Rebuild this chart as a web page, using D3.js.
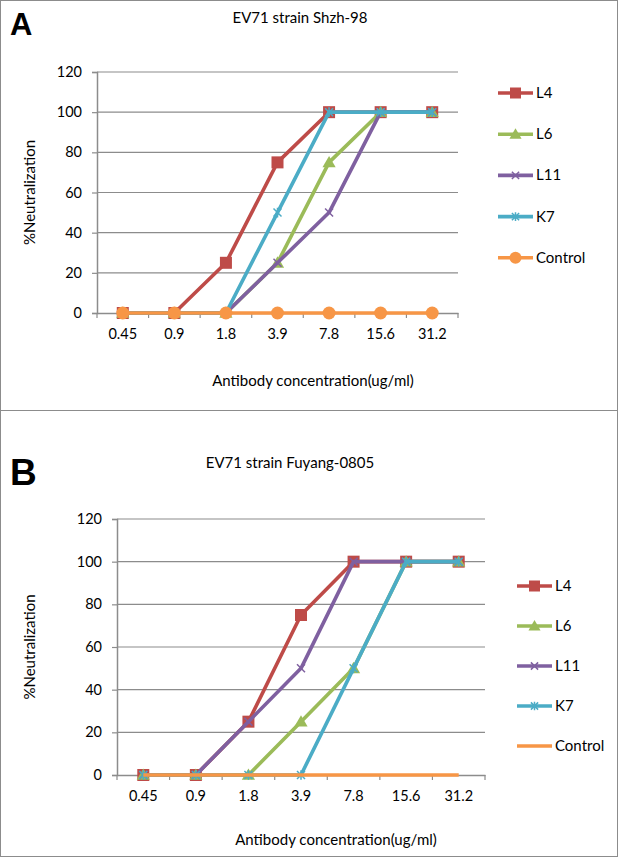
<!DOCTYPE html>
<html><head><meta charset="utf-8">
<script src="https://cdn.jsdelivr.net/npm/d3@7"></script>
<style>html,body{margin:0;padding:0;background:#fff;}svg{display:block;}</style>
</head><body>
<svg id="chart" width="619" height="858"></svg>
<script>
const categories = ["0.45","0.9","1.8","3.9","7.8","15.6","31.2"];
const yTicks = [0,20,40,60,80,100,120];
const seriesNames = ["L4","L6","L11","K7","Control"];
const seriesColors = ["#BE4B48","#9BBB59","#7F60A0","#4BACC6","#F79646"];
const seriesMarkers = ["square","triangle","x","star","circle"];
// Panel A: EV71 strain Shzh-98
const shzhL4 = [0,0,25,75,100,100,100];
const shzhL6 = [0,0,0,25,75,100,100];
const shzhL11 = [0,0,0,25,50,100,100];
const shzhK7 = [0,0,0,50,100,100,100];
const shzhControl = [0,0,0,0,0,0,0];
// Panel B: EV71 strain Fuyang-0805
const fuyL4 = [0,0,25,75,100,100,100];
const fuyL6 = [0,0,0,25,50,100,100];
const fuyL11 = [0,0,25,50,100,100,100];
const fuyK7 = [0,0,0,0,50,100,100];
const fuyControl = [0,0,0,0,0,0,0];

const FONT = "Lato, 'Open Sans', sans-serif";
const svg = d3.select("#chart");
const GRID = "#8c8c8c";

function marker(g, type, x, y, color, s) {
  if (type === "square") {
    g.append("rect").attr("x", x - s/2).attr("y", y - s/2).attr("width", s).attr("height", s).attr("fill", color);
  } else if (type === "triangle") {
    const h = s * 0.9;
    g.append("path").attr("d", `M${x},${y - h*0.6}L${x + s*0.55},${y + h*0.45}L${x - s*0.55},${y + h*0.45}Z`).attr("fill", color);
  } else if (type === "x") {
    const r = s * 0.4;
    g.append("path").attr("d", `M${x-r},${y-r}L${x+r},${y+r}M${x-r},${y+r}L${x+r},${y-r}`).attr("stroke", color).attr("stroke-width", 1.5);
  } else if (type === "star") {
    const r = s * 0.4;
    g.append("path").attr("d", `M${x-r},${y-r}L${x+r},${y+r}M${x-r},${y+r}L${x+r},${y-r}M${x},${y-r*1.2}L${x},${y+r*1.2}`).attr("stroke", color).attr("stroke-width", 1.5);
  } else if (type === "circle") {
    g.append("circle").attr("cx", x).attr("cy", y).attr("r", s/2 + 0.5).attr("fill", color);
  }
}

function panel(cfg) {
  const g = svg.append("g");
  g.append("rect").attr("x", 0.5).attr("y", cfg.boxY + 0.5).attr("width", 617).attr("height", cfg.boxH)
    .attr("fill", "#fff").attr("stroke", GRID).attr("stroke-width", 1);
  g.append("text").attr("x", 10).attr("y", cfg.letterY).text(cfg.letter)
    .attr("font-family", "'Liberation Sans', Arial, sans-serif").attr("font-weight", "bold").attr("font-size", cfg.letterSize).attr("fill", "#000");
  g.append("text").attr("x", cfg.titleX).attr("y", cfg.titleY).attr("text-anchor", "middle").text(cfg.title)
    .attr("font-family", FONT).attr("font-size", 15).attr("fill", "#000");

  const x = d3.scaleBand().domain(categories).range([cfg.left, cfg.right]);
  const y = d3.scaleLinear().domain([0, 120]).range([cfg.bottom, cfg.top]);

  // gridlines
  g.append("g").selectAll("line").data(yTicks.filter(t => t > 0)).join("line")
    .attr("x1", cfg.left).attr("x2", cfg.right).attr("y1", d => y(d)).attr("y2", d => y(d))
    .attr("stroke", GRID).attr("stroke-width", 1.2);

  // y axis
  const ya = g.append("g").attr("transform", `translate(${cfg.left},0)`)
    .call(d3.axisLeft(y).tickValues(yTicks).tickSize(5).tickPadding(10));
  ya.select(".domain").attr("stroke", GRID).attr("stroke-width", 1.5);
  ya.selectAll(".tick line").attr("stroke", GRID).attr("stroke-width", 1.2);
  ya.selectAll(".tick text").attr("font-family", FONT).attr("font-size", 14.5).attr("fill", "#000");

  // x axis
  const xa = g.append("g").attr("transform", `translate(0,${cfg.bottom})`)
    .call(d3.axisBottom(x).tickSize(0).tickPadding(16));
  xa.select(".domain").attr("stroke", GRID).attr("stroke-width", 1.5);
  xa.selectAll(".tick text").attr("font-family", FONT).attr("font-size", 14.5).attr("fill", "#000");
  const bounds = categories.map(c => x(c)).concat([cfg.right]);
  xa.append("g").selectAll("line").data(bounds).join("line")
    .attr("x1", d => d).attr("x2", d => d).attr("y1", 0).attr("y2", 5)
    .attr("stroke", GRID).attr("stroke-width", 1.2);

  // axis titles
  g.append("text").attr("transform", `translate(${cfg.yLabelX},${(cfg.top + cfg.bottom)/2}) rotate(-90)`)
    .attr("text-anchor", "middle").text("%Neutralization").attr("font-family", FONT).attr("font-size", 15).attr("fill", "#000");
  g.append("text").attr("x", cfg.xLabelX).attr("y", cfg.xLabelY).attr("text-anchor", "middle")
    .text("Antibody concentration(ug/ml)").attr("font-family", FONT).attr("font-size", 15).attr("fill", "#000");

  // series
  const line = d3.line().x((d, i) => x(categories[i]) + x.bandwidth()/2).y(d => y(d));
  cfg.series.forEach((vals, si) => {
    const sg = g.append("g");
    sg.append("path").attr("d", line(vals)).attr("fill", "none").attr("stroke", seriesColors[si])
      .attr("stroke-width", 3.6).attr("stroke-linejoin", "round");
    if (cfg.markers[si]) {
      vals.forEach((v, i) => marker(sg, seriesMarkers[si], x(categories[i]) + x.bandwidth()/2, y(v), seriesColors[si], si < 2 || si === 4 ? 12 : 10));
    }
    // legend
    const ly = cfg.legendY + si * cfg.legendStep;
    const lg = g.append("g");
    lg.append("line").attr("x1", cfg.legendX).attr("x2", cfg.legendX + 35).attr("y1", ly).attr("y2", ly)
      .attr("stroke", seriesColors[si]).attr("stroke-width", 3.6);
    if (cfg.markers[si]) marker(lg, seriesMarkers[si], cfg.legendX + 17.5, ly, seriesColors[si], si < 2 || si === 4 ? 11 : 9);
    lg.append("text").attr("x", cfg.legendX + 38).attr("y", ly + 5).text(seriesNames[si])
      .attr("font-family", FONT).attr("font-size", 15).attr("fill", "#000");
  });
}

panel({
  boxY: 0, boxH: 410, letter: "A", letterY: 35, letterSize: 31,
  title: "EV71 strain Shzh-98", titleX: 300, titleY: 23,
  left: 97, right: 458, top: 72, bottom: 313,
  yLabelX: 35, xLabelX: 313, xLabelY: 386,
  legendX: 498, legendY: 93, legendStep: 41.2,
  series: [shzhL4, shzhL6, shzhL11, shzhK7, shzhControl],
  markers: [true, true, true, true, true]
});
panel({
  boxY: 410, boxH: 446, letter: "B", letterY: 485, letterSize: 37,
  title: "EV71 strain  Fuyang-0805", titleX: 290, titleY: 468,
  left: 117, right: 485, top: 519, bottom: 775,
  yLabelX: 35, xLabelX: 336, xLabelY: 845,
  legendX: 517, legendY: 586, legendStep: 40,
  series: [fuyL4, fuyL6, fuyL11, fuyK7, fuyControl],
  markers: [true, true, true, true, false]
});
</script>
</body></html>
